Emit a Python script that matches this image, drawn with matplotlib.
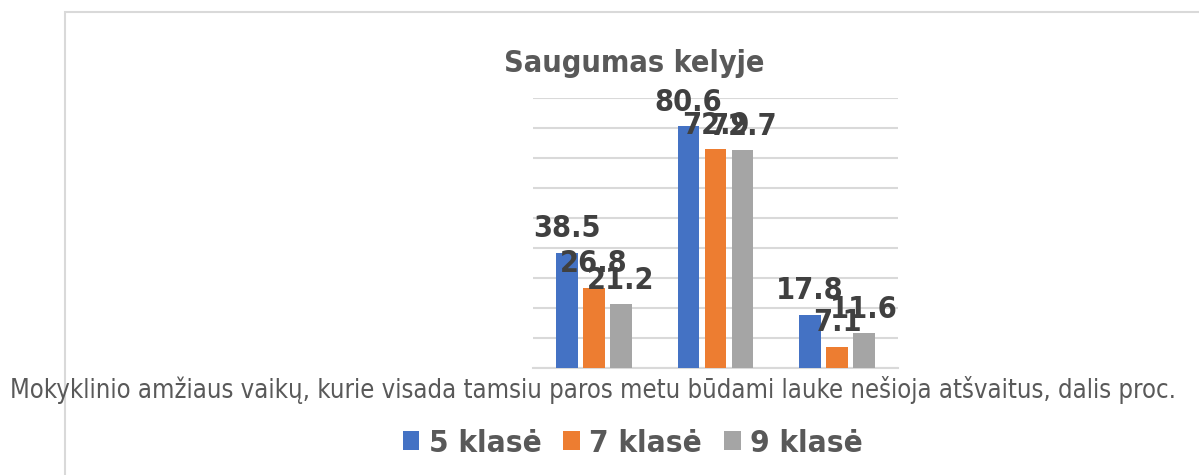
import matplotlib.pyplot as plt
import numpy as np
from matplotlib.patches import Rectangle

# duomenys
groups = ["A", "B", "C"]
series = ["5 klasė", "7 klasė", "9 klasė"]
v5 = [38.5, 80.6, 17.8]
v7 = [26.8, 72.9, 7.1]
v9 = [21.2, 72.7, 11.6]
colors = ["#4472c4", "#ed7d31", "#a5a5a5"]

title = "Saugumas kelyje"
xlabel = "Mokyklinio amžiaus vaikų, kurie visada tamsiu paros metu būdami lauke nešioja atšvaitus, dalis proc."

plt.rcParams["font.stretch"] = "condensed"

W, H = 1199, 475
fig = plt.figure(figsize=(W / 100, H / 100), dpi=100)

# remelis aplink diagrama
fig.patches.append(Rectangle((65 / W, -0.1), 1.2, 1 - 12 / H + 0.1, transform=fig.transFigure,
                             fill=False, edgecolor="#d9d9d9", linewidth=1.5))

ax = fig.add_axes([533 / W, 1 - 368 / H, (898 - 533) / W, (368 - 98) / H])
x = np.arange(len(groups))
w = 0.18
step = 0.222
for i, (vals, name) in enumerate(zip([v5, v7, v9], series)):
    pos = x + (i - 1) * step
    bars = ax.bar(pos, vals, width=w, color=colors[i], label=name, zorder=3)
    for b, v in zip(bars, vals):
        ax.annotate(f"{v}", (b.get_x() + b.get_width() / 2, v), xytext=(0, 11),
                    textcoords="offset points", ha="center", va="baseline",
                    fontsize=22, fontweight="bold", color="#404040", zorder=5)

ax.set_xlim(-0.5, 2.5)
ax.set_ylim(0, 90)
ax.set_yticks(np.arange(0, 91, 10))
ax.yaxis.grid(True, color="#d9d9d9", linewidth=1.5)
ax.set_axisbelow(True)
for s in ["top", "right", "left"]:
    ax.spines[s].set_visible(False)
ax.spines["bottom"].set_color("#d9d9d9")
ax.spines["bottom"].set_linewidth(1.5)
ax.tick_params(left=False, bottom=False, labelleft=False, labelbottom=False)

fig.text(634.5 / W, 1 - 72 / H, title, ha="center", va="baseline",
         fontsize=22, fontweight="bold", color="#595959")
fig.text(593 / W, 1 - 398 / H, xlabel, ha="center", va="baseline",
         fontsize=18.4, color="#595959")

fig.legend(loc="center", bbox_to_anchor=(632.5 / W, 1 - 443 / H), ncol=3, frameon=False,
           handlelength=0.54, handleheight=0.54, handletextpad=0.29, columnspacing=0.7,
           prop={"size": 22.5, "weight": "bold", "stretch": "condensed"}, labelcolor="#595959")

fig.savefig("out.png", dpi=100)
